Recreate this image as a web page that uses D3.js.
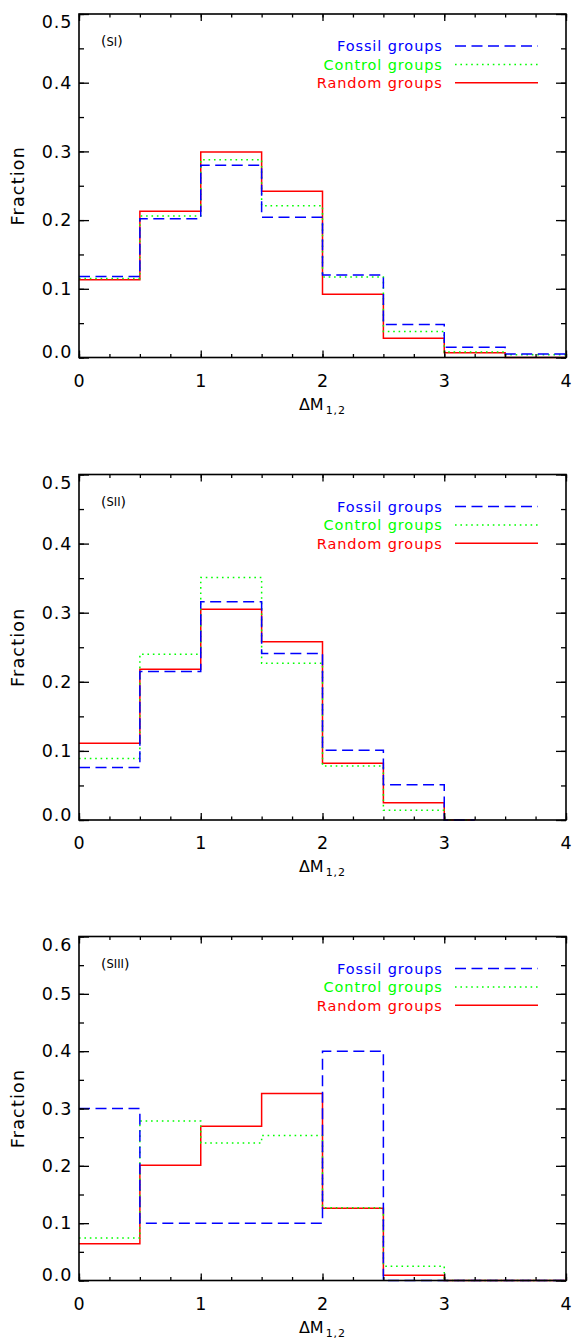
<!DOCTYPE html>
<html>
<head>
<meta charset="utf-8">
<script src="https://cdn.jsdelivr.net/npm/d3@7"></script>
<style>
  html, body { margin: 0; padding: 0; background: #fff; }
  svg { display: block; font-family: "DejaVu Sans", sans-serif; }
</style>
</head>
<body>
<svg id="chart" width="572" height="1340"></svg>
<script>
// Histogram bin edges (ΔM1,2) and fractions for each sample
const binEdgesSI = [0, 0.5, 1, 1.5, 2, 2.5, 3, 3.5, 4];
const fossilSI   = [0.118, 0.202, 0.280, 0.204, 0.120, 0.048, 0.015, 0.005];
const controlSI  = [0.115, 0.206, 0.288, 0.221, 0.117, 0.038, 0.008, 0.004];
const randomSI   = [0.113, 0.213, 0.299, 0.242, 0.092, 0.028, 0.007, 0.000];

const binEdgesSII = [0, 0.5, 1, 1.5, 2, 2.5, 3, 3.25];
const fossilSII   = [0.076, 0.215, 0.316, 0.241, 0.101, 0.051, 0.000];
const controlSII  = [0.089, 0.240, 0.351, 0.227, 0.078, 0.014, 0.000];
const randomSII   = [0.111, 0.218, 0.305, 0.258, 0.082, 0.025, 0.000];

const binEdgesSIII = [0, 0.5, 1, 1.5, 2, 2.5, 3, 3.5, 4];
const fossilSIII   = [0.300, 0.100, 0.100, 0.100, 0.400, 0.000, 0.000, 0.000];
const controlSIII  = [0.074, 0.278, 0.240, 0.253, 0.127, 0.025, 0.000, 0.000];
const randomSIII   = [0.064, 0.201, 0.269, 0.326, 0.126, 0.009, 0.000, 0.000];

const panelLabels = ["SI", "SII", "SIII"];
const yMaxima = [0.5, 0.5, 0.6];
const xTickValues = [0, 1, 2, 3, 4];
const seriesNames = ["Fossil groups", "Control groups", "Random groups"];
const seriesColors = ["#0000ff", "#00ff00", "#ff0000"];
const seriesDash = ["11,5.5", "1.6,3.8", null];

const panels = [
  { label: panelLabels[0], yMax: yMaxima[0], edges: binEdgesSI,   series: [fossilSI, controlSI, randomSI],       top: 14,    bottom: 357.5 },
  { label: panelLabels[1], yMax: yMaxima[1], edges: binEdgesSII,  series: [fossilSII, controlSII, randomSII],    top: 474.5, bottom: 820 },
  { label: panelLabels[2], yMax: yMaxima[2], edges: binEdgesSIII, series: [fossilSIII, controlSIII, randomSIII], top: 936.5, bottom: 1280.5 }
];

const left = 79, right = 566;
const svg = d3.select("#chart");

panels.forEach(p => {
  const x = d3.scaleLinear().domain([0, 4]).range([left, right]);
  const y = d3.scaleLinear().domain([0, p.yMax]).range([p.bottom, p.top]);
  const g = svg.append("g");

  // histogram steps: red first, blue on top
  const line = d3.line().curve(d3.curveStepAfter).x(d => x(d[0])).y(d => y(d[1]));
  [2, 1, 0].forEach(i => {
    const vals = p.series[i];
    const pts = vals.map((v, k) => [p.edges[k], v]);
    pts.push([p.edges[p.edges.length - 1], vals[vals.length - 1]]);
    g.append("path")
      .attr("d", line(pts))
      .attr("fill", "none")
      .attr("stroke", seriesColors[i])
      .attr("stroke-width", 1.5)
      .attr("stroke-dasharray", seriesDash[i]);
  });

  // frame
  g.append("rect")
    .attr("x", left).attr("y", p.top)
    .attr("width", right - left).attr("height", p.bottom - p.top)
    .attr("fill", "none").attr("stroke", "#000").attr("stroke-width", 1.6);

  const yMajor = d3.range(0, p.yMax + 1e-9, 0.1).map(v => +v.toFixed(2));
  const yMinor = d3.range(0, p.yMax + 1e-9, 0.05).map(v => +v.toFixed(2));
  const xMinor = d3.range(0, 4.0001, 0.25);

  const styleAxis = sel => {
    sel.select(".domain").remove();
    sel.selectAll("line").attr("stroke", "#000").attr("stroke-width", 1.3);
  };

  // bottom axis with labels
  const bx = g.append("g").attr("transform", `translate(0,${p.bottom})`)
    .call(d3.axisBottom(x).tickValues(xTickValues).tickFormat(d3.format("d")).tickSize(-7).tickPadding(17));
  styleAxis(bx);
  bx.selectAll("text").attr("font-size", 17.5).attr("fill", "#000")
    .attr("font-family", "DejaVu Sans").style("letter-spacing", "1px");
  g.append("g").attr("transform", `translate(0,${p.bottom})`)
    .call(d3.axisBottom(x).tickValues(xMinor).tickFormat("").tickSize(-3.5)).call(styleAxis);
  // top axis
  g.append("g").attr("transform", `translate(0,${p.top})`)
    .call(d3.axisTop(x).tickValues(xTickValues).tickFormat("").tickSize(-7)).call(styleAxis);
  g.append("g").attr("transform", `translate(0,${p.top})`)
    .call(d3.axisTop(x).tickValues(xMinor).tickFormat("").tickSize(-3.5)).call(styleAxis);

  // left axis with labels
  const ly = g.append("g").attr("transform", `translate(${left},0)`)
    .call(d3.axisLeft(y).tickValues(yMajor).tickFormat(d3.format(".1f")).tickSize(-10).tickPadding(6.5));
  styleAxis(ly);
  ly.selectAll("text").attr("font-size", 17.5).attr("fill", "#000")
    .attr("font-family", "DejaVu Sans").style("letter-spacing", "1px")
    .attr("transform", d => {
      const yy = y(d);
      const shifted = Math.max(p.top + 8, Math.min(p.bottom - 5.5, yy));
      return `translate(0,${shifted - yy})`;
    });
  g.append("g").attr("transform", `translate(${left},0)`)
    .call(d3.axisLeft(y).tickValues(yMinor).tickFormat("").tickSize(-5)).call(styleAxis);
  // right axis
  g.append("g").attr("transform", `translate(${right},0)`)
    .call(d3.axisRight(y).tickValues(yMajor).tickFormat("").tickSize(-10)).call(styleAxis);
  g.append("g").attr("transform", `translate(${right},0)`)
    .call(d3.axisRight(y).tickValues(yMinor).tickFormat("").tickSize(-5)).call(styleAxis);

  // y title
  g.append("text")
    .attr("transform", `translate(24,${(p.top + p.bottom) / 2}) rotate(-90)`)
    .attr("text-anchor", "middle")
    .attr("font-size", 17.5).style("letter-spacing", "1.2px")
    .text("Fraction");

  // x title ΔM with subscript 1,2
  const xt = g.append("text")
    .attr("x", x(2)).attr("y", p.bottom + 52)
    .attr("text-anchor", "middle")
    .attr("font-size", 16);
  xt.append("tspan").text("ΔM");
  xt.append("tspan").attr("font-size", 11).attr("dy", 4).attr("dx", 2).style("letter-spacing", "1px").text("1,2");

  // panel label
  const pl = g.append("text").attr("x", 101).attr("y", p.top + 32).attr("font-size", 14);
  pl.append("tspan").text("(");
  pl.append("tspan").attr("font-size", 11.5).attr("dy", -0.5).text(p.label);
  pl.append("tspan").attr("dy", 0.5).text(")");

  // legend
  const rows = [32, 50.4, 68.8];
  seriesNames.forEach((name, i) => {
    const ry = p.top + rows[i];
    g.append("text")
      .attr("x", 442.8).attr("y", ry + 5.2)
      .attr("text-anchor", "end")
      .attr("font-size", 14.5).style("letter-spacing", "0.9px")
      .attr("fill", seriesColors[i])
      .text(name);
    g.append("line")
      .attr("x1", 455).attr("x2", 538).attr("y1", ry).attr("y2", ry)
      .attr("stroke", seriesColors[i]).attr("stroke-width", 1.5)
      .attr("stroke-dasharray", seriesDash[i]);
  });
});
</script>
</body>
</html>
